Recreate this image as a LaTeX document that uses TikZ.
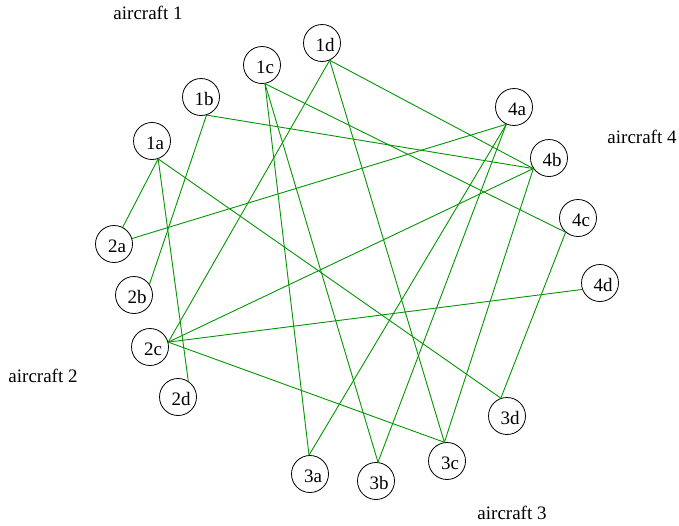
\documentclass[tikz,border=0pt]{standalone}
\usepackage{fontspec}
\setmainfont{Liberation Serif}
\definecolor{linkgreen}{RGB}{0,150,0}
\tikzset{
	ac/.style={draw, circle, minimum size=37pt, inner sep=0pt, line width=0.8pt, text height=17pt, text depth=0pt, execute at begin node={\hspace*{6pt}}, font=\fontsize{19}{19}\selectfont},
	link/.style={linkgreen, line width=0.9pt},
	grp/.style={font=\fontsize{19}{19}\selectfont}
}
\begin{document}
\begin{tikzpicture}[x=1pt, y=-1pt]
		\useasboundingbox (0,0) rectangle (679,525);
		
		% Define aircraft nodes
		\node[ac] (1a) at (152,141) {1a};
		\node[ac] (1b) at (201,97) {1b};
		\node[ac] (1c) at (262,65) {1c};
		\node[ac] (1d) at (322,43) {1d};
		
		\node[ac] (2a) at (114,244) {2a};
		\node[ac] (2b) at (134,295) {2b};
		\node[ac] (2c) at (150,347) {2c};
		\node[ac] (2d) at (178,397) {2d};
		
		\node[ac] (3a) at (310,474) {3a};
		\node[ac] (3b) at (376,481) {3b};
		\node[ac] (3c) at (447,461) {3c};
		\node[ac] (3d) at (507,416) {3d};
		
		\node[ac] (4a) at (514,107) {4a};
		\node[ac] (4b) at (549,158) {4b};
		\node[ac] (4c) at (578,218) {4c};
		\node[ac] (4d) at (600,283) {4d};
		
		% Group labels
		\node[grp] (g1) at (148,13) {aircraft 1};
		\node[grp] (g2) at (43,376) {aircraft 2};
		\node[grp] (g3) at (512,513) {aircraft 3};
		\node[grp] (g4) at (642,137) {aircraft 4};
		
		% Conflicts of aircraft 1
		\draw[link] (1a.-71) -- (2a);
		\draw[link] (1a.-71) -- (2d.57);
		\draw[link] (1a.-71) -- (3d.109);
		\draw[link] (1b.-73) -- (2b.35);
		\draw[link] (1b.-73) -- (4b.-146);
		\draw[link] (1c.-81) -- (3a.93);
		\draw[link] (1c.-81) -- (3b.84);
		\draw[link] (1c.-81) -- (4c.-131);
		\draw[link] (1d.-66) -- (2c.15);
		\draw[link] (1d.-66) -- (3c.98);
		\draw[link] (1d.-66) -- (4b.-146);
		
		% Conflicts of aircraft 2
		\draw[link] (2a) -- (4a.-114);
		\draw[link] (2c.15) -- (4b.-146);
		\draw[link] (2c.15) -- (4d.-160);
		\draw[link] (2c.15) -- (3c.98);
		
		% Conflicts of aircraft 3
		\draw[link] (3a.93) -- (4a.-114);
		\draw[link] (3b.84) -- (4a.-114);
		\draw[link] (3c.98) -- (4b.-146);
		\draw[link] (3d.109) -- (4c.-131);
	\end{tikzpicture}
\end{document}
